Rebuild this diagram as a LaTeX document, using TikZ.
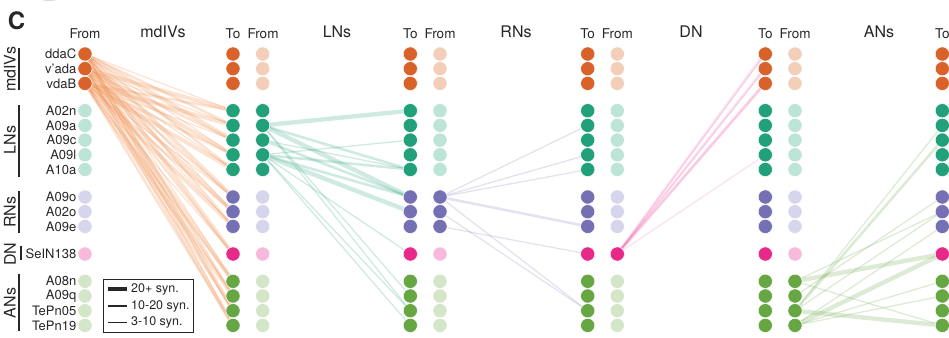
\documentclass[tikz,border=0pt]{standalone}
\usepackage{fontspec}
\setmainfont{TeX Gyre Heros}
\pgfdeclarelayer{edges}
\pgfsetlayers{edges,main}

% dark (target) and light (inactive) tones per neuron class
\definecolor{dkA}{HTML}{D9622A}\definecolor{ltA}{HTML}{F3CEB8}
\definecolor{dkB}{HTML}{22A079}\definecolor{ltB}{HTML}{BCE4D7}
\definecolor{dkC}{HTML}{7570B3}\definecolor{ltC}{HTML}{D7D5EB}
\definecolor{dkD}{HTML}{E7298A}\definecolor{ltD}{HTML}{F7BADA}
\definecolor{dkE}{HTML}{66A643}\definecolor{ltE}{HTML}{D3E6C7}
\definecolor{edA}{HTML}{EE8A48}
\definecolor{ink}{HTML}{262626}

\tikzset{
  dot/.style={circle, minimum size=14.2pt, inner sep=0pt, draw=white, line width=0.5pt},
  hdr/.style={font=\fontsize{13.5}{15}\selectfont, text=ink, anchor=base, inner sep=0pt},
  sect/.style={font=\fontsize{16}{18}\selectfont, text=ink, anchor=base, inner sep=0pt},
  cell/.style={font=\fontsize{13}{15}\selectfont, text=ink, anchor=east, inner sep=0pt},
  grp/.style={font=\fontsize{16}{18}\selectfont, text=ink, rotate=90, inner sep=0pt},
  bar/.style={draw=ink, line width=2pt},
  legtxt/.style={font=\fontsize{12.5}{14}\selectfont, text=ink, anchor=west, inner sep=0pt},
  eA/.style={draw=edA, opacity=0.25},
  eB/.style={draw=dkB, opacity=0.22},
  eC/.style={draw=dkC, opacity=0.2},
  eD/.style={draw=dkD, opacity=0.13},
  eE/.style={draw=dkE, opacity=0.22},
  wS/.style={line width=1.3pt},
  wM/.style={line width=2.6pt},
  wL/.style={line width=4.4pt}
}
\def\tomark{X}

\begin{document}
\begin{tikzpicture}[x=1pt, y=-1pt]
\useasboundingbox (0,0) rectangle (949,337);

% clipped grey patch at the upper edge
\fill[black!15] (49,-3) ellipse (11 and 4);

% panel letter
\node[font=\bfseries\fontsize{24}{26}\selectfont, text=ink, inner sep=0pt] (panel) at (16.5,21) {C};

% column headers
\node[hdr] (h0) at (85,39) {From};
\node[sect] (s1) at (163,37.5) {mdIVs};
\node[hdr] (h1) at (233,39) {To};
\node[hdr] (h2) at (263,39) {From};
\node[sect] (s2) at (337,37.5) {LNs};
\node[hdr] (h3) at (410.3,39) {To};
\node[hdr] (h4) at (440,39) {From};
\node[sect] (s3) at (516,37.5) {RNs};
\node[hdr] (h5) at (587.7,39) {To};
\node[hdr] (h6) at (617.3,39) {From};
\node[sect] (s4) at (691,37.5) {DN};
\node[hdr] (h7) at (765.3,39) {To};
\node[hdr] (h8) at (795,39) {From};
\node[sect] (s5) at (879,37.5) {ANs};
\node[hdr] (h9) at (942.3,39) {To};

% dots: every column holds all sixteen neurons
\foreach \k/\xx/\sec in {0/85/A,1/233/X,2/262.7/B,3/410.3/X,4/440/C,5/587.7/X,6/617.3/D,7/765.3/X,8/795/E,9/942.3/X}{
  \foreach \r/\yy/\g in {1/54/A,2/68.7/A,3/83.4/A,4/110.7/B,5/125.4/B,6/140.1/B,7/154.8/B,8/169.5/B,9/197/C,10/211.7/C,11/226.4/C,12/254/D,13/281.3/E,14/296/E,15/310.7/E,16/325.4/E}{
    \def\tone{lt}
    \ifx\sec\g\def\tone{dk}\fi
    \ifx\sec\tomark\def\tone{dk}\fi
    \edef\fc{\tone\g}
    \node[dot, fill=\fc] (c\k-\r) at (\xx,\yy) {};
  }
}

% neuron names
\foreach \r/\yy/\nm in {1/54/ddaC,2/68.7/v'ada,3/83.4/vdaB,4/110.7/A02n,5/125.4/A09a,6/140.1/A09c,7/154.8/A09l,8/169.5/A10a,9/197/A09o,10/211.7/A02o,11/226.4/A09e,12/254/SeIN138,13/281.3/A08n,14/296/A09q,15/310.7/TePn05,16/325.4/TePn19}{
  \node[cell] (n\r) at (76.5,\yy) {\nm};
}

% class brackets
\node[grp] (gA) at (10,69) {mdIVs};
\draw[bar] (18.5,48) -- (18.5,90);
\node[grp] (gB) at (10,140) {LNs};
\draw[bar] (18.5,105) -- (18.5,177);
\node[grp] (gC) at (10,212) {RNs};
\draw[bar] (19,191) -- (19,233);
\node[grp] (gD) at (10,254) {DN};
\draw[bar] (20.5,246) -- (20.5,260);
\node[grp] (gE) at (10,303) {ANs};
\draw[bar] (19,274) -- (19,331);

% legend
\draw[ink, line width=1pt] (103.5,279.5) rectangle (193,332);
\draw[ink, line width=3.8pt] (108,289) -- (127,289);
\draw[ink, line width=2.3pt] (108,306) -- (127,306);
\draw[ink, line width=1pt] (108,322) -- (127,322);
\node[legtxt] (k1) at (131,289) {20+ syn.};
\node[legtxt] (k2) at (131,306) {10-20 syn.};
\node[legtxt] (k3) at (131,322) {3-10 syn.};

\begin{pgfonlayer}{edges}
% mdIV outputs
\foreach \s in {1,2,3}{
  \foreach \t in {4,...,16}{
    \pgfmathsetmacro\ww{1.1+1.4*mod(\s*2+\t,3)}
    \draw[eA, line width=\ww pt] (c0-\s) -- (c1-\t);
  }
}
% LN outputs
\draw[eB, wL] (c2-5) -- (c3-4);
\draw[eB, wM] (c2-5) -- (c3-8);
\draw[eB, wL] (c2-5) -- (c3-9);
\draw[eB, wS] (c2-5) -- (c3-14);
\draw[eB, wS] (c2-5) -- (c3-15);
\draw[eB, wS] (c2-6) -- (c3-8);
\draw[eB, wM] (c2-6) -- (c3-9);
\draw[eB, wS] (c2-7) -- (c3-6);
\draw[eB, wM] (c2-7) -- (c3-8);
\draw[eB, wM] (c2-7) -- (c3-9);
\draw[eB, wL] (c2-7) -- (c3-10);
\draw[eB, wS] (c2-7) -- (c3-12);
\draw[eB, wS] (c2-7) -- (c3-15);
\draw[eB, wS] (c2-7) -- (c3-16);
% RN outputs
\draw[eC, wS] (c4-9) -- (c5-5);
\draw[eC, wS] (c4-9) -- (c5-7);
\draw[eC, wS] (c4-9) -- (c5-8);
\draw[eC, wM] (c4-9) -- (c5-11);
\draw[eC, wS] (c4-9) -- (c5-15);
\draw[eC, wS] (c4-10) -- (c5-15);
\draw[eC, wS] (c4-11) -- (c5-12);
% DN outputs
\draw[eD, wS] (c6-12) -- (c7-1);
\draw[eD, wM] (c6-12) -- (c7-1.south west);
\draw[eD, wS] (c6-12) -- (c7-2);
\draw[eD, wM] (c6-12) -- (c7-2.south west);
\draw[eD, wM] (c6-12) -- (c7-3);
\draw[eD, wM] (c6-12) -- (c7-3.south west);
\draw[eD, wS] (c6-12) -- (c7-7);
% AN outputs
\draw[eE, wL] (c8-13) -- (c9-12);
\draw[eE, wS] (c8-13) -- (c9-10);
\draw[eE, wS] (c8-13) -- (c9-16);
\draw[eE, wS] (c8-14) -- (c9-9);
\draw[eE, wS] (c8-15) -- (c9-5);
\draw[eE, wM] (c8-15) -- (c9-6);
\draw[eE, wS] (c8-15) -- (c9-10);
\draw[eE, wL] (c8-15) -- (c9-16);
\draw[eE, wL] (c8-16) -- (c9-12);
\draw[eE, wS] (c8-16) -- (c9-11);
\draw[eE, wS] (c8-16) -- (c9-13);
\draw[eE, wS] (c8-16) -- (c9-14);
\end{pgfonlayer}
\end{tikzpicture}
\end{document}
